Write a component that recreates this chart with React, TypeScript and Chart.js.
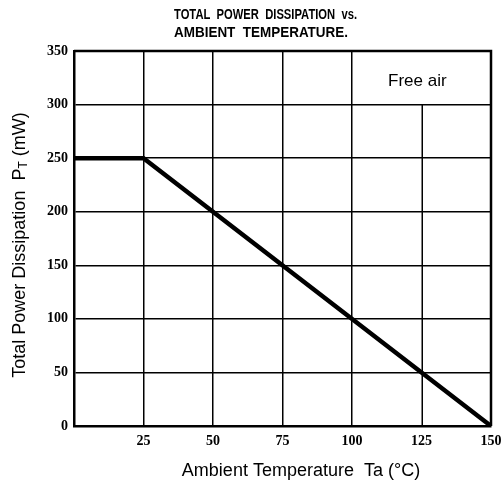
import React, { useEffect, useRef } from "react";
import { Chart, registerables } from "chart.js";

Chart.register(...registerables);

const tempPoints = [0, 25, 150];
const powerPoints = [250, 250, 0];
const titleLines = ["TOTAL  POWER  DISSIPATION  vs.", "AMBIENT  TEMPERATURE."];
const annotationText = "Free air";
const xTitle = "Ambient Temperature  Ta (\u00B0C)";
const yTitleMain = "Total Power Dissipation  P";
const yTitleSub = "T";
const yTitleEnd = " (mW)";
// grid line interrupted by the "Free air" label box
const shortGridX = 125;
const shortGridTop = 300;

const textPlugin = {
  id: "texts",
  afterDraw(chart: any) {
    const ctx = chart.ctx as CanvasRenderingContext2D;
    ctx.save();
    ctx.fillStyle = "#000";
    ctx.font = "bold 14px 'Liberation Sans', Arial, sans-serif";
    ctx.textBaseline = "alphabetic";
    ctx.textAlign = "left";
    const targets = [183, 174];
    const baselines = [19, 37];
    titleLines.forEach((t, i) => {
      const w = ctx.measureText(t).width;
      const s = targets[i] / w;
      ctx.save();
      ctx.translate(174, baselines[i]);
      ctx.scale(s, 1);
      ctx.fillText(t, 0, 0);
      ctx.restore();
    });
    ctx.font = "17px 'Liberation Sans', Arial, sans-serif";
    ctx.fillText(annotationText, 388, 86);
    ctx.font = "18px 'Liberation Sans', Arial, sans-serif";
    ctx.textAlign = "center";
    ctx.fillText(xTitle, 301, 476);
    ctx.textAlign = "left";
    const mainFont = "18px 'Liberation Sans', Arial, sans-serif";
    const subFont = "12px 'Liberation Sans', Arial, sans-serif";
    ctx.font = mainFont;
    const w1 = ctx.measureText(yTitleMain).width;
    const w3 = ctx.measureText(yTitleEnd).width;
    ctx.font = subFont;
    const w2 = ctx.measureText(yTitleSub).width;
    const total = w1 + w2 + w3;
    ctx.translate(25, 245);
    ctx.rotate(-Math.PI / 2);
    let x = -total / 2;
    ctx.font = mainFont;
    ctx.fillText(yTitleMain, x, 0);
    x += w1;
    ctx.font = subFont;
    ctx.fillText(yTitleSub, x, 2);
    x += w2;
    ctx.font = mainFont;
    ctx.fillText(yTitleEnd, x, 0);
    ctx.restore();
  },
};

export default function App() {
  const ref = useRef<HTMLCanvasElement>(null);
  useEffect(() => {
    if (!ref.current) return;
    const chart = new Chart(ref.current, {
      type: "line",
      data: {
        datasets: [
          {
            data: tempPoints.map((t, i) => ({ x: t, y: powerPoints[i] })),
            borderColor: "#000",
            borderWidth: 4.5,
            pointRadius: 0,
            tension: 0,
            fill: false,
          },
        ],
      },
      options: {
        animation: false,
        responsive: false,
        devicePixelRatio: 1,
        layout: { padding: { top: 51, right: 11, left: 0, bottom: 0 } },
        plugins: { legend: { display: false }, tooltip: { enabled: false }, title: { display: false } },
        scales: {
          x: {
            type: "linear",
            min: 0,
            max: 150,
            ticks: {
              stepSize: 25,
              color: "#000",
              padding: 7,
              font: { family: "'Liberation Serif', serif", size: 14, weight: "bold" },
              callback: (v: any) => (v === 0 ? "" : String(v)),
            },
            grid: {
              color: (c: any) => (c.tick && c.tick.value === shortGridX ? "rgba(0,0,0,0)" : "#000"),
              lineWidth: 1.5,
              drawTicks: false,
            },
            border: { display: true, color: "#000", width: 2.5 },
            afterFit: (s: any) => {
              s.height = 61;
              s.paddingLeft = 0;
              s.paddingRight = 0;
            },
          },
          y: {
            min: 0,
            max: 350,
            ticks: {
              stepSize: 50,
              color: "#000",
              padding: 6,
              font: { family: "'Liberation Serif', serif", size: 14, weight: "bold" },
            },
            grid: { color: "#000", lineWidth: 1.5, drawTicks: false },
            border: { display: true, color: "#000", width: 2.5 },
            afterFit: (s: any) => {
              s.width = 74;
              s.paddingTop = 0;
              s.paddingBottom = 0;
            },
          },
        },
      },
      plugins: [
        {
          id: "shortGrid",
          beforeDatasetsDraw(chart: any) {
            const xs = chart.scales.x;
            const ys = chart.scales.y;
            const ctx = chart.ctx;
            const px = Math.round(xs.getPixelForValue(shortGridX)) + 0.25;
            ctx.save();
            ctx.strokeStyle = "#000";
            ctx.lineWidth = 1.5;
            ctx.beginPath();
            ctx.moveTo(px, ys.getPixelForValue(0));
            ctx.lineTo(px, ys.getPixelForValue(shortGridTop));
            ctx.stroke();
            ctx.restore();
          },
        },
        textPlugin,
        {
          id: "rightTopBorder",
          afterDraw(chart: any) {
            const { left, right, top, bottom } = chart.chartArea;
            const ctx = chart.ctx;
            ctx.save();
            ctx.strokeStyle = "#000";
            ctx.lineWidth = 2.5;
            ctx.beginPath();
            ctx.moveTo(left, top);
            ctx.lineTo(right, top);
            ctx.lineTo(right, bottom);
            ctx.stroke();
            ctx.restore();
          },
        },
      ],
    } as any);
    return () => chart.destroy();
  }, []);
  return (
    <div style={{ position: "fixed", left: 0, top: 0, width: 502, height: 487, background: "#fff" }}>
      <canvas ref={ref} width={502} height={487} />
    </div>
  );
}
